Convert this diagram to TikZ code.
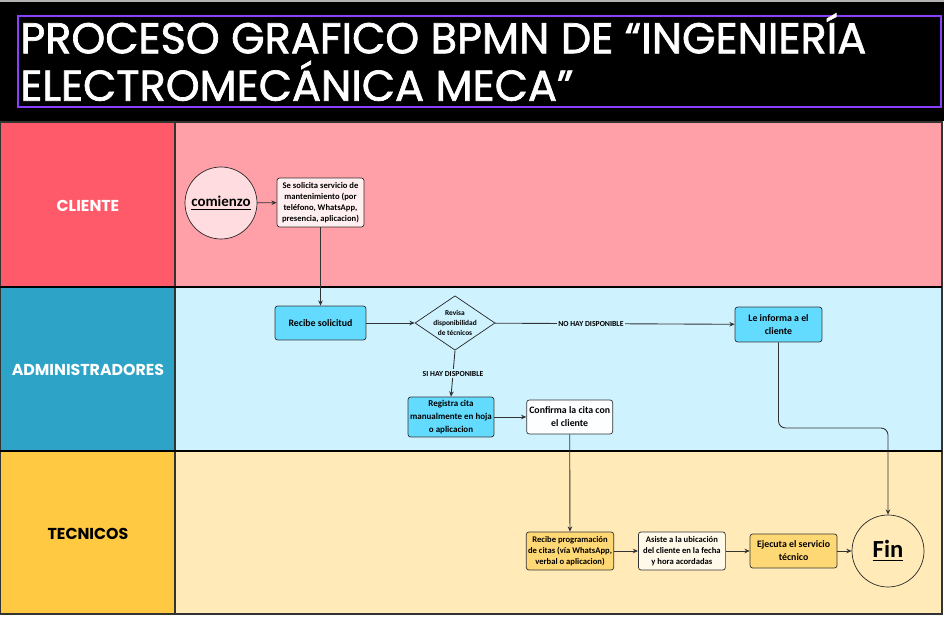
\documentclass[tikz,border=0pt]{standalone}
\usepackage{fontspec}
\setmainfont{Liberation Sans}
\newfontfamily\titlefont{Poppins}
\newfontfamily\headfont{Poppins}[FakeBold=1.6]
\newfontfamily\boxfont{Carlito}
\usetikzlibrary{arrows.meta, positioning, shapes.geometric, calc}

\definecolor{titleline}{HTML}{8A3FFC}
\definecolor{clientelab}{HTML}{FF5A69}
\definecolor{clientebg}{HTML}{FF9FA8}
\definecolor{adminlab}{HTML}{2CA3C7}
\definecolor{adminbg}{HTML}{CEF3FF}
\definecolor{teclab}{HTML}{FFCA42}
\definecolor{tecbg}{HTML}{FFEAB8}
\definecolor{cyanbox}{HTML}{63DBFF}
\definecolor{yellowbox}{HTML}{FFD876}
\definecolor{pinkbox}{HTML}{FFEFF1}
\definecolor{pinkcircle}{HTML}{FFDCE0}

\begin{document}
\begin{tikzpicture}[
  x=0.02cm, y=-0.02cm,
  lanelabel/.style={font=\titlefont\bfseries\fontsize{9}{10}\selectfont},
  task/.style={rectangle, draw=black!80, rounded corners=1.5pt, align=center,
    inner sep=1pt, font=\boxfont\bfseries\fontsize{5.6}{7.4}\selectfont},
  smalltask/.style={task, font=\boxfont\bfseries\fontsize{4.9}{6.3}\selectfont},
  event/.style={circle, draw=black!85, minimum size=1.44cm, inner sep=0pt},
  decision/.style={diamond, draw=black!85, fill=adminbg, aspect=1.47, inner sep=0pt,
    minimum width=1.56cm, minimum height=1.06cm, align=center,
    font=\boxfont\bfseries\fontsize{4.2}{5.6}\selectfont},
  guard/.style={font=\boxfont\bfseries\fontsize{4.4}{5}\selectfont, inner sep=1pt},
  arrow/.style={-{Stealth[length=3pt, width=2.6pt]}, draw=black!80, line width=0.5pt}
]
\useasboundingbox (0,0) rectangle (944,618);

% Title
\fill[black] (0,0) rectangle (944,121);
\draw[gray!60, line width=0.6pt] (0,1) -- (944,1);
\draw[titleline, line width=1pt] (18,16) rectangle (941,107);
\node[anchor=north west, align=left, text=white, inner sep=0pt,
  font=\headfont\fontsize{24.5}{27}\selectfont] (title) at (20,13)
  {PROCESO GRAFICO BPMN DE “INGENIERÍA\\ELECTROMECÁNICA MECA”};

% Lanes
\fill[clientebg] (175,122) rectangle (942,287);
\fill[adminbg] (175,287) rectangle (942,451);
\fill[tecbg] (175,451) rectangle (942,614);
\fill[clientelab] (0,122) rectangle (175,287);
\fill[adminlab] (0,287) rectangle (175,451);
\fill[teclab] (0,451) rectangle (175,614);
\draw[black!80, line width=0.6pt] (0,122) rectangle (942,614);
\draw[black!80, line width=0.6pt] (175,122) -- (175,614);
\draw[black, line width=0.7pt] (0,287) -- (942,287);
\draw[black, line width=0.7pt] (0,451) -- (942,451);

\node[lanelabel, text=white] (lcliente) at (88,206) {CLIENTE};
\node[lanelabel, text=white] (ladmin) at (88,370) {ADMINISTRADORES};
\node[lanelabel, text=black] (ltecnicos) at (88,534) {TECNICOS};

% Cliente
\node[event, fill=pinkcircle, font=\boxfont\bfseries\fontsize{8.5}{10}\selectfont] (comienzo) at (221,203) {\underline{comienzo}};
\node[smalltask, fill=pinkbox, minimum width=1.74cm, minimum height=0.98cm] (solicita) at (320.5,202.5)
  {Se solicita servicio de\\mantenimiento (por\\teléfono, WhatsApp,\\presencia, aplicacion)};

% Administradores
\node[task, fill=cyanbox, minimum width=1.82cm, minimum height=0.68cm] (recibe) at (320.5,323) {Recibe solicitud};
\node[decision] (revisa) at (455,323) {Revisa\\disponibilidad\\de técnicos};
\node[task, fill=cyanbox, minimum width=1.74cm, minimum height=0.7cm] (informa) at (778.5,324.5) {Le informa a el\\cliente};
\node[task, fill=cyanbox, minimum width=1.72cm, minimum height=0.8cm,
  font=\boxfont\bfseries\fontsize{5.1}{7.2}\selectfont] (registra) at (451,417) {Registra cita\\manualmente en hoja\\o aplicacion};
\node[task, fill=white!93!adminbg, minimum width=1.72cm, minimum height=0.68cm, right=0.64cm of registra] (confirma) {Confirma la cita con\\el cliente};

% Tecnicos
\node[smalltask, fill=yellowbox, minimum width=1.72cm, minimum height=0.76cm] (programacion) at (570,551) {Recibe programación\\de citas (vía WhatsApp,\\verbal o aplicacion)};
\node[smalltask, fill=white!70!tecbg, minimum width=1.74cm, minimum height=0.76cm, right=0.48cm of programacion] (asiste) {Asiste a la ubicación\\del cliente en la fecha\\y hora acordadas};
\node[task, fill=yellowbox, minimum width=1.74cm, minimum height=0.68cm, right=0.48cm of asiste] (ejecuta) {Ejecuta el servicio\\técnico};
\node[event, font=\boxfont\bfseries\fontsize{14}{16}\selectfont] (fin) at (888,551) {\underline{Fin}};

% Flows
\draw[arrow] (comienzo) -- (solicita);
\draw[arrow] (solicita) -- (recibe);
\draw[arrow] (recibe) -- (revisa);
\draw[arrow] (revisa) -- node[guard, fill=adminbg, pos=0.4] (nohay) {NO HAY DISPONIBLE} (informa);
\draw[arrow] (revisa.south) -- node[guard, fill=adminbg] (sihay) {SI HAY DISPONIBLE} (registra.north);
\draw[arrow] (registra) -- (confirma);
\draw[arrow] (confirma) -- (programacion);
\draw[arrow] (programacion) -- (asiste);
\draw[arrow] (asiste) -- (ejecuta);
\draw[arrow] (ejecuta) -- (fin);
\draw[arrow, rounded corners=4pt] (informa.south) |- (fin.north |- 0,428) -- (fin.north);

\end{tikzpicture}
\end{document}
